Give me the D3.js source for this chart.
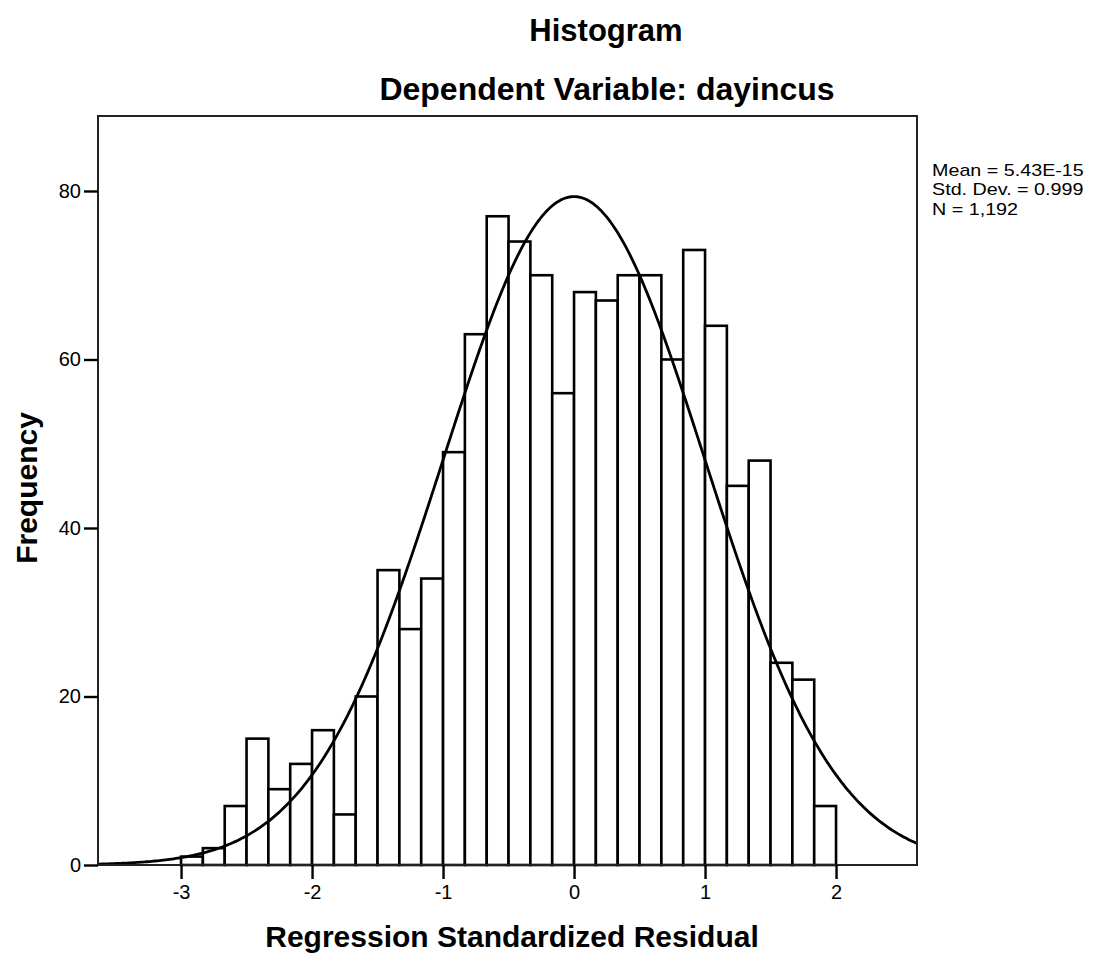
<!DOCTYPE html>
<html>
<head>
<meta charset="utf-8">
<script src="https://cdn.jsdelivr.net/npm/d3@7"></script>
<style>
body { margin: 0; background: #fff; }
svg { display: block; }
text { font-family: "Liberation Sans", Arial, sans-serif; fill: #000; }
</style>
</head>
<body>
<div id="chart"></div>
<script>
// histogram counts, bins of width 1/6 starting at -3
var binStart = -3;
var binWidth = 1 / 6;
var counts = [1, 2, 7, 15, 9, 12, 16, 6, 20, 35, 28, 34, 49, 63, 77, 74, 70, 56,
              68, 67, 70, 70, 60, 73, 64, 45, 48, 24, 22, 7];
var xTicks = [-3, -2, -1, 0, 1, 2];
var yTicks = [0, 20, 40, 60, 80];
var stats = ["Mean = 5.43E-15", "Std. Dev. = 0.999", "N = 1,192"];
var mean = 5.43e-15, sd = 0.999, n = 1192;

var W = 1099, H = 953;
var margin = {top: 116, left: 98, right: 1099 - 917, bottom: 953 - 865};
var iw = W - margin.left - margin.right;
var ih = H - margin.top - margin.bottom;

var svg = d3.select("#chart").append("svg")
  .attr("width", W)
  .attr("height", H);

var x = d3.scaleLinear().domain([-3.634, 2.618]).range([0, iw]);
var y = d3.scaleLinear().domain([0, 88.9]).range([ih, 0]);

var g = svg.append("g").attr("transform", "translate(" + margin.left + "," + margin.top + ")");

svg.append("defs").append("clipPath").attr("id", "clip")
  .append("rect").attr("width", iw).attr("height", ih);

// bars
var bins = counts.map(function(c, i) {
  return {x0: binStart + i * binWidth, x1: binStart + (i + 1) * binWidth, count: c};
});

g.selectAll(".bar")
  .data(bins)
  .enter().append("rect")
  .attr("class", "bar")
  .attr("x", function(d) { return x(d.x0); })
  .attr("y", function(d) { return y(d.count); })
  .attr("width", function(d) { return x(d.x1) - x(d.x0); })
  .attr("height", function(d) { return y(0) - y(d.count); })
  .style("fill", "#fff")
  .style("stroke", "#000")
  .style("stroke-width", 2.6);

// normal curve
var pts = d3.range(0, 401).map(function(i) {
  var v = x.domain()[0] + i * (x.domain()[1] - x.domain()[0]) / 400;
  var z = (v - mean) / sd;
  return [v, n * binWidth * Math.exp(-0.5 * z * z) / (sd * Math.sqrt(2 * Math.PI))];
});

g.append("path")
  .datum(pts)
  .attr("clip-path", "url(#clip)")
  .attr("d", d3.line()
    .x(function(d) { return x(d[0]); })
    .y(function(d) { return y(d[1]); }))
  .style("fill", "none")
  .style("stroke", "#000")
  .style("stroke-width", 2.8);

// frame
g.append("rect")
  .attr("width", iw)
  .attr("height", ih)
  .style("fill", "none")
  .style("stroke", "#222")
  .style("stroke-width", 2);

// axes
var xAxis = g.append("g")
  .attr("transform", "translate(0," + ih + ")")
  .call(d3.axisBottom(x).tickValues(xTicks).tickSize(14).tickPadding(6).tickFormat(d3.format("d")));
var yAxis = g.append("g")
  .call(d3.axisLeft(y).tickValues(yTicks).tickSize(14).tickPadding(3).tickFormat(d3.format("d")));

[xAxis, yAxis].forEach(function(a) {
  a.select(".domain").remove();
  a.selectAll(".tick line").style("stroke", "#000").style("stroke-width", 2.4);
  a.selectAll(".tick text")
    .style("font-family", "'Liberation Sans', Arial, sans-serif")
    .style("font-size", "20px")
    .style("fill", "#000");
});
xAxis.selectAll(".tick text").text(function(d) { return d < 0 ? "-" + Math.abs(d) : d; });

// titles
svg.append("text")
  .attr("x", 606).attr("y", 41)
  .attr("text-anchor", "middle")
  .style("font-size", "31px").style("font-weight", "bold")
  .text("Histogram");

svg.append("text")
  .attr("x", 607).attr("y", 100)
  .attr("text-anchor", "middle")
  .style("font-size", "32px").style("font-weight", "bold")
  .text("Dependent Variable: dayincus");

svg.append("text")
  .attr("x", 512).attr("y", 947)
  .attr("text-anchor", "middle")
  .style("font-size", "30px").style("font-weight", "bold")
  .text("Regression Standardized Residual");

svg.append("text")
  .attr("transform", "translate(37,488) rotate(-90)")
  .attr("text-anchor", "middle")
  .style("font-size", "30px").style("font-weight", "bold")
  .text("Frequency");

// stats legend, slightly stretched to keep the reference width
var legend = svg.append("g").attr("transform", "translate(932,0) scale(1.16,1)");
legend.selectAll(".stat")
  .data(stats)
  .enter().append("text")
  .attr("class", "stat")
  .attr("x", 0)
  .attr("y", function(d, i) { return 176 + i * 19.5; })
  .style("font-size", "17px")
  .text(function(d) { return d; });
</script>
</body>
</html>
